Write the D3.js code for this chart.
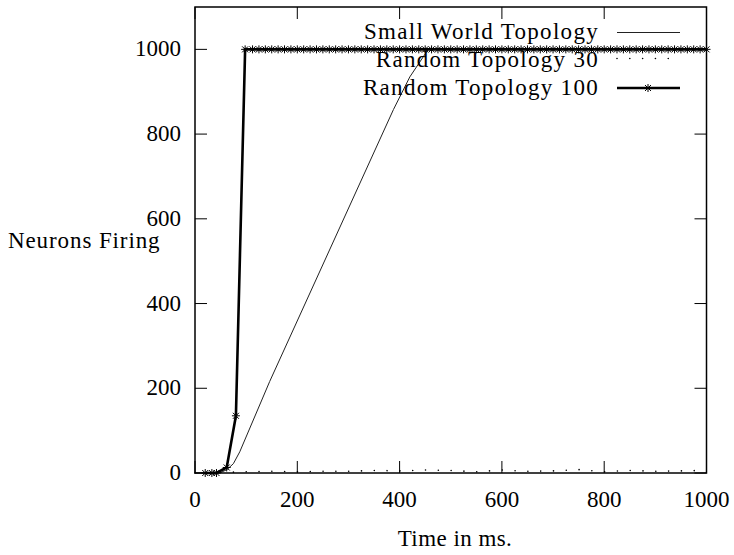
<!DOCTYPE html>
<html>
<head>
<meta charset="utf-8">
<script src="https://cdn.jsdelivr.net/npm/d3@7"></script>
<style>
  body { margin: 0; background: #fff; }
  svg text { font-family: "Liberation Serif", "Times New Roman", "DejaVu Serif", serif; fill: #000; }
</style>
</head>
<body>
<svg id="chart" width="734" height="555"></svg>
<script>
// neurons firing vs time, three topologies

const xTicks = [0, 200, 400, 600, 800, 1000];
const yTicks = [0, 200, 400, 600, 800, 1000];
const seriesNames = ["Small World Topology", "Random Topology 30", "Random Topology 100"];

// Small World Topology (thin line)
const swTime = [0, 50, 62.5, 75, 87.5, 146, 388, 420, 456, 1000];
const swCount = [0, 1, 8, 22, 50, 216, 858, 935, 1000, 1000];

// Random Topology 30 (dotted, stays near zero)
const r30Time = [0, 25, 50, 100, 150, 200, 250, 300, 350, 400, 450, 500, 550, 600, 650, 700, 750, 800, 850, 900, 950, 1000];
const r30Count = [0, 0, 1, 3, 4, 3, 4, 4, 6, 5, 7, 6, 3, 7, 4, 5, 8, 3, 6, 4, 5, 6];

// Random Topology 100 (thick line with stars)
const r100Time = [20, 33, 42, 62, 80,
  98, 112.5, 125, 137.5, 150, 162.5, 175, 187.5, 200, 212.5, 225, 237.5, 250, 262.5, 275, 287.5,
  300, 312.5, 325, 337.5, 350, 362.5, 375, 387.5, 400, 412.5, 425, 437.5, 450, 462.5, 475, 487.5,
  500, 512.5, 525, 537.5, 550, 562.5, 575, 587.5, 600, 612.5, 625, 637.5, 650, 662.5, 675, 687.5,
  700, 712.5, 725, 737.5, 750, 762.5, 775, 787.5, 800, 812.5, 825, 837.5, 850, 862.5, 875, 887.5,
  900, 912.5, 925, 937.5, 950, 962.5, 975, 987.5, 1000];
const r100Count = [0, 0, 0, 13, 135,
  1000, 1000, 1000, 1000, 1000, 1000, 1000, 1000, 1000, 1000, 1000, 1000, 1000, 1000, 1000, 1000,
  1000, 1000, 1000, 1000, 1000, 1000, 1000, 1000, 1000, 1000, 1000, 1000, 1000, 1000, 1000, 1000,
  1000, 1000, 1000, 1000, 1000, 1000, 1000, 1000, 1000, 1000, 1000, 1000, 1000, 1000, 1000, 1000,
  1000, 1000, 1000, 1000, 1000, 1000, 1000, 1000, 1000, 1000, 1000, 1000, 1000, 1000, 1000, 1000,
  1000, 1000, 1000, 1000, 1000, 1000, 1000, 1000, 1000];

const svg = d3.select("#chart");
const plotL = 195, plotR = 706.5, plotT = 7, plotB = 473;
const fontSize = 23;

const x = d3.scaleLinear().domain([0, 1000]).range([plotL, plotR]);
const y = d3.scaleLinear().domain([0, 1100]).range([plotB, plotT]);

const zip = (t, v) => t.map((d, i) => [d, v[i]]);
const line = d3.line().x(d => x(d[0])).y(d => y(d[1]));
const star = "M-4,0H4M0,-4V4M-3,-3L3,3M-3,3L3,-3";

// ticks, inside, mirrored on all four sides
const tickLen = 12;
const axes = svg.append("g").attr("stroke", "#000").attr("stroke-width", 1);
xTicks.forEach(t => {
    axes.append("line").attr("x1", x(t)).attr("x2", x(t)).attr("y1", plotB).attr("y2", plotB - tickLen);
    axes.append("line").attr("x1", x(t)).attr("x2", x(t)).attr("y1", plotT).attr("y2", plotT + tickLen);
});
yTicks.forEach(t => {
    axes.append("line").attr("x1", plotL).attr("x2", plotL + tickLen).attr("y1", y(t)).attr("y2", y(t));
    axes.append("line").attr("x1", plotR).attr("x2", plotR - tickLen).attr("y1", y(t)).attr("y2", y(t));
});

svg.append("g")
    .selectAll("text")
    .data(xTicks)
    .enter()
    .append("text")
    .attr("x", d => x(d))
    .attr("y", 507)
    .attr("text-anchor", "middle")
    .style("font-size", fontSize + "px")
    .text(d => d);

svg.append("g")
    .selectAll("text")
    .data(yTicks)
    .enter()
    .append("text")
    .attr("x", 181)
    .attr("y", d => y(d) + 7)
    .attr("text-anchor", "end")
    .style("font-size", fontSize + "px")
    .text(d => d);

svg.append("text")
    .attr("x", 455)
    .attr("y", 546)
    .attr("text-anchor", "middle")
    .style("font-size", fontSize + "px")
    .style("letter-spacing", "0.45px")
    .text("Time in ms.");

svg.append("text")
    .attr("x", 8)
    .attr("y", 248)
    .style("font-size", fontSize + "px")
    .style("letter-spacing", "0.9px")
    .text("Neurons Firing");

// series
svg.append("path")
    .datum(zip(r30Time, r30Count))
    .attr("d", line)
    .attr("fill", "none")
    .attr("stroke", "#000")
    .attr("stroke-width", 1.6)
    .attr("stroke-linecap", "round")
    .attr("stroke-dasharray", "0.01 12.8");

svg.append("path")
    .datum(zip(swTime, swCount))
    .attr("d", line)
    .attr("fill", "none")
    .attr("stroke", "#222")
    .attr("stroke-width", 1);

const r100 = zip(r100Time, r100Count);
svg.append("path")
    .datum(r100)
    .attr("d", line)
    .attr("fill", "none")
    .attr("stroke", "#000")
    .attr("stroke-width", 2.6);

svg.append("g")
    .selectAll("path")
    .data(r100)
    .enter()
    .append("path")
    .attr("transform", d => `translate(${x(d[0])},${y(d[1])})`)
    .attr("d", star)
    .attr("fill", "none")
    .attr("stroke", "#000")
    .attr("stroke-width", 1);

// frame
svg.append("rect")
    .attr("x", plotL).attr("y", plotT)
    .attr("width", plotR - plotL).attr("height", plotB - plotT)
    .attr("fill", "none")
    .attr("stroke", "#000")
    .attr("stroke-width", 1.5);

// legend
const legY = [38.5, 66.5, 94.5];
const leg = svg.append("g");
seriesNames.forEach((name, i) => {
    leg.append("text")
        .attr("x", 599)
        .attr("y", legY[i])
        .attr("text-anchor", "end")
        .style("font-size", fontSize + "px")
        .style("letter-spacing", "1.3px")
        .text(name);
});
leg.append("line").attr("x1", 617).attr("x2", 680).attr("y1", legY[0] - 6).attr("y2", legY[0] - 6)
    .attr("stroke", "#222").attr("stroke-width", 1);
leg.append("line").attr("x1", 617).attr("x2", 680).attr("y1", legY[1] - 8).attr("y2", legY[1] - 8)
    .attr("stroke", "#000").attr("stroke-width", 1.6).attr("stroke-linecap", "round")
    .attr("stroke-dasharray", "0.01 12.8");
leg.append("line").attr("x1", 617).attr("x2", 680).attr("y1", legY[2] - 6.5).attr("y2", legY[2] - 6.5)
    .attr("stroke", "#000").attr("stroke-width", 2.6);
leg.append("path")
    .attr("transform", `translate(648,${legY[2] - 6.5})`)
    .attr("d", star)
    .attr("fill", "none")
    .attr("stroke", "#000")
    .attr("stroke-width", 1);
</script>
</body>
</html>
